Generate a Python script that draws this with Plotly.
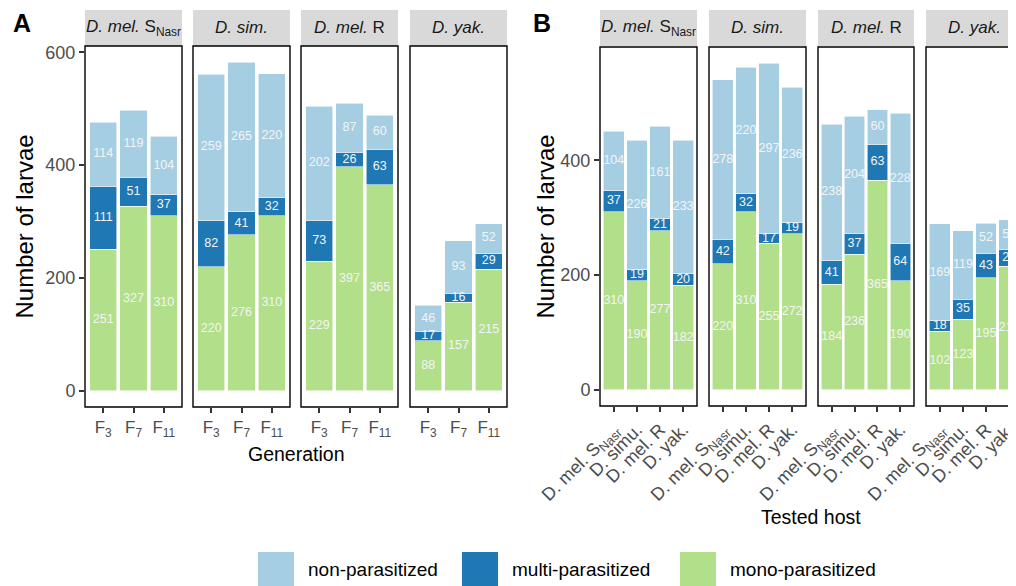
import plotly.graph_objects as go

# page offset: the html body adds an 8px margin around the figure
OFF = 8
W, H = 1016 - OFF, 586 - OFF

# ---------------- data ----------------
generations = ["F<sub>3</sub>", "F<sub>7</sub>", "F<sub>11</sub>"]
tested_hosts = ["D. mel. S<sub>Nasr</sub>", "D. simu.", "D. mel. R", "D. yak."]
facet_labels = ["<i>D. mel.</i> S<sub>Nasr</sub>", "<i>D. sim.</i>", "<i>D. mel.</i> R", "<i>D. yak.</i>"]
series_names = ["mono-parasitized", "multi-parasitized", "non-parasitized"]
legend_order = ["non-parasitized", "multi-parasitized", "mono-parasitized"]
colors = {"non-parasitized": "#A6CEE3", "multi-parasitized": "#1F78B4", "mono-parasitized": "#B2DF8A"}

# Panel A: per facet (line), values per generation F3, F7, F11
A_mono = [[251, 327, 310], [220, 276, 310], [229, 397, 365], [88, 157, 215]]
A_multi = [[111, 51, 37], [82, 41, 32], [73, 26, 63], [17, 16, 29]]
A_non = [[114, 119, 104], [259, 265, 220], [202, 87, 60], [46, 93, 52]]

# Panel B: per facet (line), values per tested host
B_mono = [[310, 190, 277, 182], [220, 310, 255, 272], [184, 236, 365, 190], [102, 123, 195, 215]]
B_multi = [[37, 19, 21, 20], [42, 32, 17, 19], [41, 37, 63, 64], [18, 35, 43, 29]]
B_non = [[104, 226, 161, 233], [278, 220, 297, 236], [238, 204, 60, 228], [169, 119, 52, 52]]

# ---------------- geometry (window pixels) ----------------
A_panels_px = [(85, 182), (193, 290), (301, 398), (410, 507)]
B_panels_px = [(600, 697), (709, 806), (818, 914), (926, 1023)]
A_y_px = (46, 407)
B_y_px = (47, 406)
strip_px = (10, 46)

FONT = "Liberation Sans, Arial, sans-serif"
GRAY = "#4D4D4D"


def fx(p):
    return (p - OFF) / W


def fy(p):
    return 1 - (p - OFF) / H


fig = go.Figure()
layout_axes = {}
shapes = []
annotations = []


def add_panel(k, cats, mono, multi, non, xpx, ypx, yrange, first, yticks, tickangle, xtickfont,
              last_cut=False):
    xa = "x" if k == 1 else f"x{k}"
    ya = "y" if k == 1 else f"y{k}"
    series = {"mono-parasitized": mono, "multi-parasitized": multi, "non-parasitized": non}
    for name in series_names:
        fig.add_trace(go.Bar(
            x=cats, y=series[name], name=name, xaxis=xa, yaxis=ya,
            marker=dict(color=colors[name], line=dict(color="rgba(255,255,255,0.7)", width=0.8)),
            showlegend=False, hoverinfo="skip"))
    # label positions: middle of each stacked segment
    base = [0] * len(cats)
    for name in series_names:
        vals = series[name]
        mids = [b + v / 2 for b, v in zip(base, vals)]
        fig.add_trace(go.Scatter(
            x=cats, y=mids, mode="text", text=[str(v) for v in vals],
            textfont=dict(color="#F4F4F4", size=12.5, family=FONT), cliponaxis=False,
            xaxis=xa, yaxis=ya, showlegend=False, hoverinfo="skip"))
        base = [b + v for b, v in zip(base, vals)]

    n = len(cats)
    x0, x1 = xpx
    if last_cut:
        unit = (x1 - x0) / (n + 0.2)
        xr = [-0.6, -0.6 + (1016 - x0) / unit]
        dom = [fx(x0), 1.0]
    else:
        xr = [-0.6, n - 0.4]
        dom = [fx(x0), fx(x1)]
    layout_axes[f"xaxis{'' if k == 1 else k}"] = dict(
        domain=dom, range=xr, type="category", categoryarray=cats, categoryorder="array",
        anchor=ya, showgrid=False, zeroline=False, showline=False, automargin=False,
        ticks="outside", ticklen=5, tickwidth=2, tickcolor="#333333",
        tickfont=dict(size=xtickfont, color=GRAY, family=FONT), tickangle=tickangle, fixedrange=True)
    layout_axes[f"yaxis{'' if k == 1 else k}"] = dict(
        domain=[fy(ypx[1]), fy(ypx[0])], range=yrange, anchor=xa, automargin=False,
        showgrid=False, zeroline=False, showline=False,
        ticks="outside" if first else "", ticklen=5, tickwidth=2, tickcolor="#333333",
        tickvals=yticks, showticklabels=first,
        tickfont=dict(size=18, color=GRAY, family=FONT), fixedrange=True)
    # panel border
    shapes.append(dict(type="rect", xref="paper", yref="paper",
                       x0=fx(x0), x1=fx(x1), y0=fy(ypx[1]), y1=fy(ypx[0]),
                       line=dict(color="black", width=1.4), fillcolor="rgba(0,0,0,0)", layer="above"))
    # strip
    shapes.append(dict(type="rect", xref="paper", yref="paper",
                       x0=fx(x0), x1=fx(x1), y0=fy(strip_px[1]), y1=fy(strip_px[0]),
                       line=dict(width=0), fillcolor="#D9D9D9", layer="below"))


maxA = max(a + b + c for fm, fu, fn in zip(A_mono, A_multi, A_non) for a, b, c in zip(fm, fu, fn))
maxB = max(a + b + c for fm, fu, fn in zip(B_mono, B_multi, B_non) for a, b, c in zip(fm, fu, fn))
rangeA = [-0.05 * maxA, 1.05 * maxA]
rangeB = [-0.05 * maxB, 1.05 * maxB]

for i in range(4):
    add_panel(i + 1, generations, A_mono[i], A_multi[i], A_non[i], A_panels_px[i], A_y_px,
              rangeA, i == 0, [0, 200, 400, 600], 0, 17)
for i in range(4):
    add_panel(i + 5, tested_hosts, B_mono[i], B_multi[i], B_non[i], B_panels_px[i], B_y_px,
              rangeB, i == 0, [0, 200, 400], -45, 18, last_cut=(i == 3))

# strip labels
for i in range(4):
    for panels in (A_panels_px, B_panels_px):
        x0, x1 = panels[i]
        annotations.append(dict(x=fx((x0 + x1) / 2), y=fy((strip_px[0] + strip_px[1]) / 2),
                                xref="paper", yref="paper", text=facet_labels[i], showarrow=False,
                                font=dict(size=17, color="#1A1A1A", family=FONT),
                                xanchor="center", yanchor="middle"))

# panel letters
annotations.append(dict(x=fx(11), y=fy(23), xref="paper", yref="paper", text="<b>A</b>",
                        showarrow=False, font=dict(size=25, color="black", family=FONT),
                        xanchor="left", yanchor="middle"))
annotations.append(dict(x=fx(531), y=fy(23), xref="paper", yref="paper", text="<b>B</b>",
                        showarrow=False, font=dict(size=25, color="black", family=FONT),
                        xanchor="left", yanchor="middle"))

# axis titles
annotations.append(dict(x=fx(24), y=fy((A_y_px[0] + A_y_px[1]) / 2), xref="paper", yref="paper",
                        text="Number of larvae", textangle=-90, showarrow=False,
                        font=dict(size=24, color="black", family=FONT), xanchor="center", yanchor="middle"))
annotations.append(dict(x=fx(545), y=fy((B_y_px[0] + B_y_px[1]) / 2), xref="paper", yref="paper",
                        text="Number of larvae", textangle=-90, showarrow=False,
                        font=dict(size=24, color="black", family=FONT), xanchor="center", yanchor="middle"))
annotations.append(dict(x=fx(296), y=fy(454), xref="paper", yref="paper", text="Generation",
                        showarrow=False, font=dict(size=19.5, color="black", family=FONT),
                        xanchor="center", yanchor="middle"))
annotations.append(dict(x=fx(811), y=fy(517), xref="paper", yref="paper", text="Tested host",
                        showarrow=False, font=dict(size=19.5, color="black", family=FONT),
                        xanchor="center", yanchor="middle"))

# legend (drawn manually to match large keys)
legend_key_x = [258, 462, 680]
for name, kx in zip(legend_order, legend_key_x):
    shapes.append(dict(type="rect", xref="paper", yref="paper",
                       x0=fx(kx), x1=fx(kx + 36), y0=fy(592), y1=fy(552),
                       line=dict(width=0), fillcolor=colors[name]))
    annotations.append(dict(x=fx(kx + 48), y=fy(569), xref="paper", yref="paper", text=name,
                            showarrow=False, font=dict(size=19, color="black", family=FONT),
                            xanchor="left", yanchor="middle"))

fig.update_layout(
    width=W, height=H, margin=dict(l=0, r=0, t=0, b=0, autoexpand=False),
    paper_bgcolor="white", plot_bgcolor="white",
    barmode="stack", bargap=0.1, showlegend=False,
    font=dict(family=FONT),
    shapes=shapes, annotations=annotations, **layout_axes)

fig.write_html("out.html")
